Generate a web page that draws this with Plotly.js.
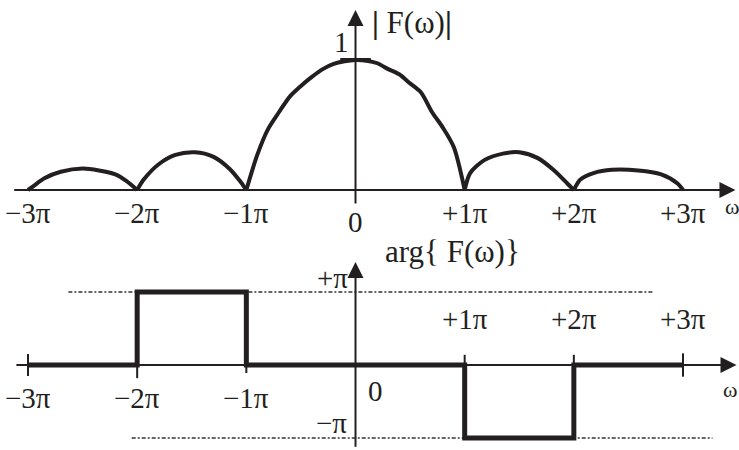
<!DOCTYPE html>
<html>
<head>
<meta charset="utf-8">
<script src="https://cdn.plot.ly/plotly-3.0.1.min.js"></script>
<style>
  body { margin: 0; background: #fff; }
  #chart { width: 739px; height: 450px; }
</style>
</head>
<body>
<div id="chart"></div>
<script>
// omega in units of pi
var tickVals = [-3, -2, -1, 1, 2, 3];
var tickText = ['\u22123\u03c0', '\u22122\u03c0', '\u22121\u03c0', '+1\u03c0', '+2\u03c0', '+3\u03c0'];

// |F(w)|, one array per lobe
var lobeW = [
  [-3, -2.95, -2.85, -2.7, -2.5, -2.35, -2.2, -2.1, -2],
  [-2, -1.94, -1.8, -1.65, -1.47, -1.3, -1.15, -1.05, -1],
  [-1, -0.9, -0.8, -0.7, -0.6, -0.5, -0.4, -0.3, -0.2, -0.1, 0, 0.1, 0.2, 0.3, 0.4, 0.5, 0.6, 0.7, 0.8, 0.9, 1],
  [1, 1.05, 1.18, 1.35, 1.5, 1.67, 1.82, 1.94, 2],
  [2, 2.06, 2.18, 2.35, 2.59, 2.8, 2.95, 3]
];
var lobeMag = [
  [0, 0.03, 0.09, 0.14, 0.165, 0.15, 0.12, 0.07, 0],
  [0, 0.08, 0.2, 0.27, 0.29, 0.255, 0.16, 0.06, 0],
  [0, 0.27, 0.47, 0.6, 0.72, 0.8, 0.87, 0.93, 0.97, 0.99, 1, 0.995, 0.975, 0.93, 0.89, 0.82, 0.75, 0.6, 0.48, 0.33, 0],
  [0, 0.13, 0.23, 0.28, 0.29, 0.245, 0.15, 0.05, 0],
  [0, 0.08, 0.13, 0.155, 0.15, 0.12, 0.05, 0]
];

// arg{F(w)} in units of pi
var phaseW = [-3, -2, -2, -1, -1, 1, 1, 2, 2, 3];
var phaseVal = [0, 0, 1, 1, 0, 0, -1, -1, 0, 0];

// dotted reference levels +pi / -pi
var levelVal = [1, -1];
var levelFrom = [-2.63, -2.05];
var levelTo = [2.72, 3.27];

var ink = '#231f20';
var serif = '"Liberation Serif", "Times New Roman", Times, serif';

var traces = [];
lobeW.forEach(function (w, i) {
  traces.push({
    x: w, y: lobeMag[i], xaxis: 'x', yaxis: 'y',
    mode: 'lines', line: {color: ink, width: 4, shape: 'spline', smoothing: 0.8},
    hoverinfo: 'skip'
  });
});
levelVal.forEach(function (v, i) {
  traces.push({
    x: [levelFrom[i], levelTo[i]], y: [v, v], xaxis: 'x2', yaxis: 'y2',
    mode: 'lines', line: {color: '#333', width: 1.5, dash: '4px,2px,2px,2px'},
    hoverinfo: 'skip'
  });
});
traces.push({
  x: phaseW, y: phaseVal, xaxis: 'x2', yaxis: 'y2',
  mode: 'lines', line: {color: ink, width: 5}, hoverinfo: 'skip'
});

function arrow(xr, yr, x, y, ax, ay) {
  return {xref: xr, yref: yr, axref: xr, ayref: yr, x: x, y: y, ax: ax, ay: ay,
    text: '', showarrow: true, arrowhead: 2, arrowsize: 1.6, arrowwidth: 2, arrowcolor: ink};
}
function label(xr, yr, x, y, txt, opt) {
  var a = {xref: xr, yref: yr, x: x, y: y, text: txt, showarrow: false,
    font: {family: serif, size: 29, color: ink}};
  for (var k in opt) a[k] = opt[k];
  return a;
}
var big = {family: serif, size: 31, color: ink};
var small = {family: serif, size: 22, color: ink};

var ann = [
  arrow('x', 'y', 3.48, 0, -3.14, 0),
  arrow('x', 'y', 0, 1.385, 0, -0.115),
  arrow('x2', 'y2', 3.49, 0, -3.12, 0),
  arrow('x2', 'y2', 0, 1.41, 0, -1.14)
];
tickVals.forEach(function (v, i) {
  ann.push(label('x', 'y', v, 0, tickText[i], {yshift: -23}));
  ann.push(label('x2', 'y2', v, 0, tickText[i], {yshift: v < 0 ? -33 : 46}));
});
ann.push(label('x', 'y', 0, 0, '0', {yshift: -32}));
ann.push(label('x2', 'y2', 0, 0, '0', {xshift: 20, yshift: -26}));
ann.push(label('x', 'y', 3.45, 0, '\u03c9', {yshift: -16, font: small}));
ann.push(label('x2', 'y2', 3.43, 0, '\u03c9', {yshift: -24, font: small}));
ann.push(label('x', 'y', 0, 1, '1', {xshift: -14, yshift: 18}));
ann.push(label('x', 'y', 0, 1.285, '<b>|</b> F(\u03c9)<b>|</b>', {xanchor: 'left', xshift: 14, font: big}));
ann.push(label('x2', 'y2', 0, 1, '+\u03c0', {xshift: -23, yshift: 14}));
ann.push(label('x2', 'y2', 0, -1, '\u2212\u03c0', {xshift: -24, yshift: 15}));
ann.push(label('x2', 'y2', 0, 1.55, 'arg{ F(\u03c9)}', {xanchor: 'left', xshift: 27, font: big}));

// tick marks on the phase axis
var tickUp = [0.15, 0, 0, 0.14, 0.14, 0.16];
var tickDown = [-0.15, -0.18, -0.11, 0, 0, -0.16];
var shapes = tickVals.map(function (v, i) {
  return {type: 'line', xref: 'x2', yref: 'y2', x0: v, x1: v, y0: tickDown[i], y1: tickUp[i],
    line: {color: ink, width: 2}};
});
shapes.push({type: 'line', xref: 'x', yref: 'y', x0: -0.14, x1: 0.14, y0: 1, y1: 1,
  line: {color: ink, width: 4}});

var xr = [-3.2565, 3.5128];
var layout = {
  width: 739, height: 450,
  margin: {l: 0, r: 0, t: 0, b: 0},
  paper_bgcolor: '#fff', plot_bgcolor: '#fff',
  showlegend: false,
  xaxis: {range: xr, visible: false, anchor: 'y'},
  yaxis: {range: [-0.2692, 1.4615], domain: [0.5, 1], visible: false, anchor: 'x'},
  xaxis2: {range: xr, visible: false, anchor: 'y2'},
  yaxis2: {range: [-1.164, 1.918], domain: [0, 0.5], visible: false, anchor: 'x2'},
  annotations: ann,
  shapes: shapes
};

Plotly.newPlot('chart', traces, layout, {staticPlot: true, displayModeBar: false});
</script>
</body>
</html>
